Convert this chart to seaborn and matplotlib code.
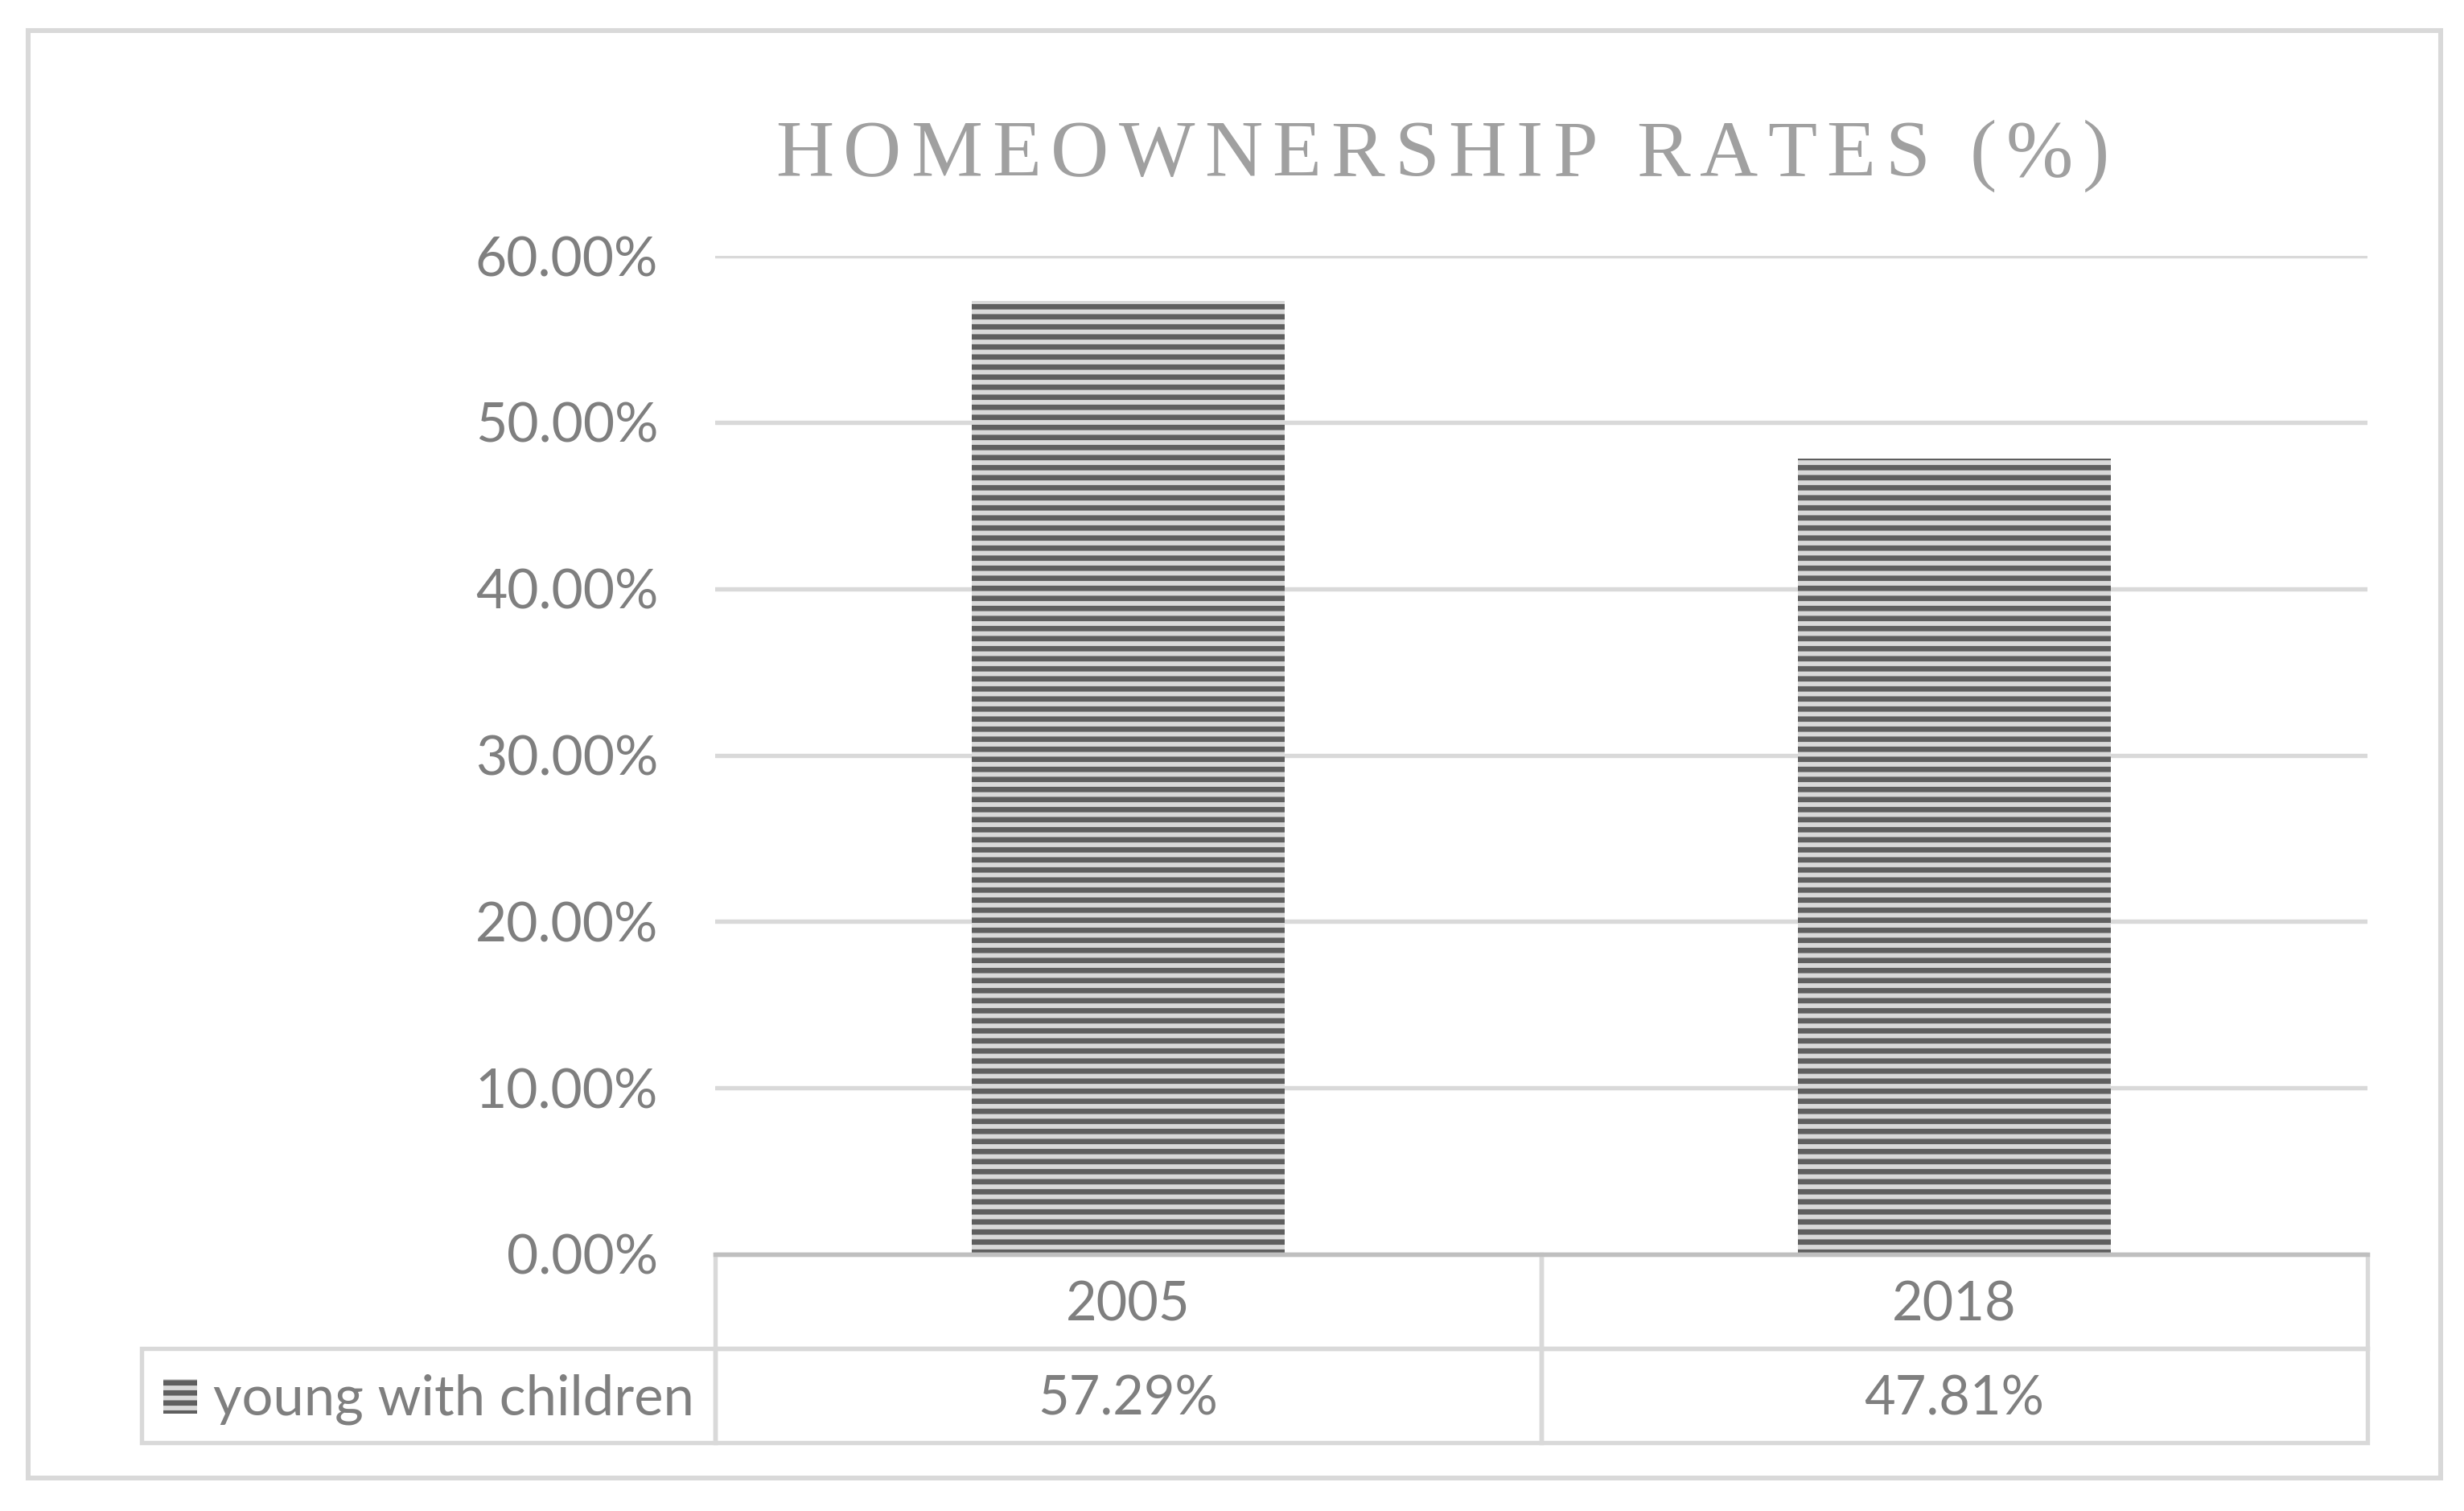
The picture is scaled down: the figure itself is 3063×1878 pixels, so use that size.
import matplotlib
matplotlib.use("Agg")
import matplotlib.pyplot as plt
from matplotlib.patches import Rectangle
from matplotlib.font_manager import FontProperties, findfont, get_font
import seaborn as sns
import pandas as pd

# --- data ---
years = ["2005", "2018"]
rates = [0.5729, 0.4781]
series_name = "young with children"
yticks = [0.0, 0.1, 0.2, 0.3, 0.4, 0.5, 0.6]
title = "HOMEOWNERSHIP RATES (%)"

DPI = 150
W, H = 3063, 1878

sns.set_style("white")
plt.rcParams["font.family"] = ["Lato", "DejaVu Sans"]
plt.rcParams["hatch.linewidth"] = 3.2

grey_txt = "#7f7f7f"
grid_col = "#d9d9d9"
dark = "#5f5f5f"
light = "#d9d9d9"

fig = plt.figure(figsize=(W / DPI, H / DPI), dpi=DPI)
fig.patch.set_facecolor("white")

# axes box in pixels (from the reference)
ax_l, ax_r, ax_t, ax_b = 889, 2943, 318, 1559
ax_w = ax_r - ax_l
ax_h = ax_b - ax_t
ax = fig.add_axes([ax_l / W, 1 - ax_b / H, ax_w / W, ax_h / H])


def px_x(x):  # figure pixel -> axes fraction
    return (x - ax_l) / ax_w


def px_y(y):
    return (ax_b - y) / ax_h


df = pd.DataFrame({"year": years, "rate": rates})
sns.barplot(data=df, x="year", y="rate", color=light, saturation=1,
            width=0.379, edgecolor=dark, linewidth=0, hatch="--", ax=ax)

ax.set_ylim(0, 0.6)
ax.set_xlim(-0.5, 1.5)
ax.set_yticks(yticks)
ax.set_yticklabels([f"{v * 100:.2f}%" for v in yticks])
ax.tick_params(axis="y", length=0, pad=34, labelsize=32.5, labelcolor=grey_txt)
ax.tick_params(axis="x", length=0, labelbottom=False)
ax.set_xlabel("")
ax.set_ylabel("")
ax.yaxis.grid(True, color=grid_col, linewidth=2.6)
ax.set_axisbelow(True)
for s in ["left", "top", "right"]:
    ax.spines[s].set_visible(False)
ax.spines["bottom"].set_color("#bfbfbf")
ax.spines["bottom"].set_linewidth(2.6)
ax.spines["bottom"].set_zorder(5)

# --- data table under the axis (drawn cell by cell) ---
row_edges = [1559, 1676, 1793]
col_edges = [176, 889, 1916, 2943]
cell_kw = dict(transform=ax.transAxes, clip_on=False, fill=False,
               edgecolor=grid_col, linewidth=2.6, zorder=4)
txt_kw = dict(transform=ax.transAxes, clip_on=False, fontsize=32,
              color=grey_txt, va="baseline")

# header row: years
for i, yr in enumerate(years):
    x0, x1 = col_edges[i + 1], col_edges[i + 2]
    y0, y1 = row_edges[0], row_edges[1]
    ax.add_patch(Rectangle((px_x(x0), px_y(y1)), (x1 - x0) / ax_w, (y1 - y0) / ax_h, **cell_kw))
    ax.text(px_x((x0 + x1) / 2), px_y((y0 + y1) / 2 + 24), yr, ha="center", **txt_kw)

# value row: series label + values
y0, y1 = row_edges[1], row_edges[2]
ax.add_patch(Rectangle((px_x(col_edges[0]), px_y(y1)), (col_edges[1] - col_edges[0]) / ax_w,
                       (y1 - y0) / ax_h, **cell_kw))
lab_kw = dict(txt_kw, fontsize=33)
ax.text(px_x(265), px_y((y0 + y1) / 2 + 24), series_name, ha="left", **lab_kw)
for i, v in enumerate(rates):
    x0, x1 = col_edges[i + 1], col_edges[i + 2]
    ax.add_patch(Rectangle((px_x(x0), px_y(y1)), (x1 - x0) / ax_w, (y1 - y0) / ax_h, **cell_kw))
    ax.text(px_x((x0 + x1) / 2), px_y((y0 + y1) / 2 + 24), f"{v * 100:.2f}%", ha="center", **txt_kw)

# legend key in the label cell
ax.add_patch(Rectangle((px_x(203), px_y(1757)), 42 / ax_w, 43 / ax_h,
                       transform=ax.transAxes, clip_on=False, facecolor=light,
                       edgecolor=dark, linewidth=0, hatch="--", zorder=6))

# --- letter-spaced title ---
tprop = FontProperties(family="Liberation Serif", size=48)
ft = get_font(findfont(tprop))
ft.set_size(48, DPI)
adv = [ft.load_char(ord(c)).linearHoriAdvance / 65536 for c in title]
gap = 12
total = sum(adv) + gap * (len(title) - 1)
x = 1793 - total / 2
for c, a in zip(title, adv):
    if c != " ":
        fig.text(x / W, 1 - 218 / H, c, fontproperties=tprop, color="#a0a0a0",
                 ha="left", va="baseline")
    x += a + gap

# outer chart border
fig.patches.append(Rectangle((34.5 / W, 1 - 1837 / H), (3034 - 34.5) / W, (1837 - 38) / H,
                             transform=fig.transFigure, fill=False,
                             edgecolor=grid_col, linewidth=2.9))

fig.savefig("out.png", dpi=DPI, facecolor="white")
